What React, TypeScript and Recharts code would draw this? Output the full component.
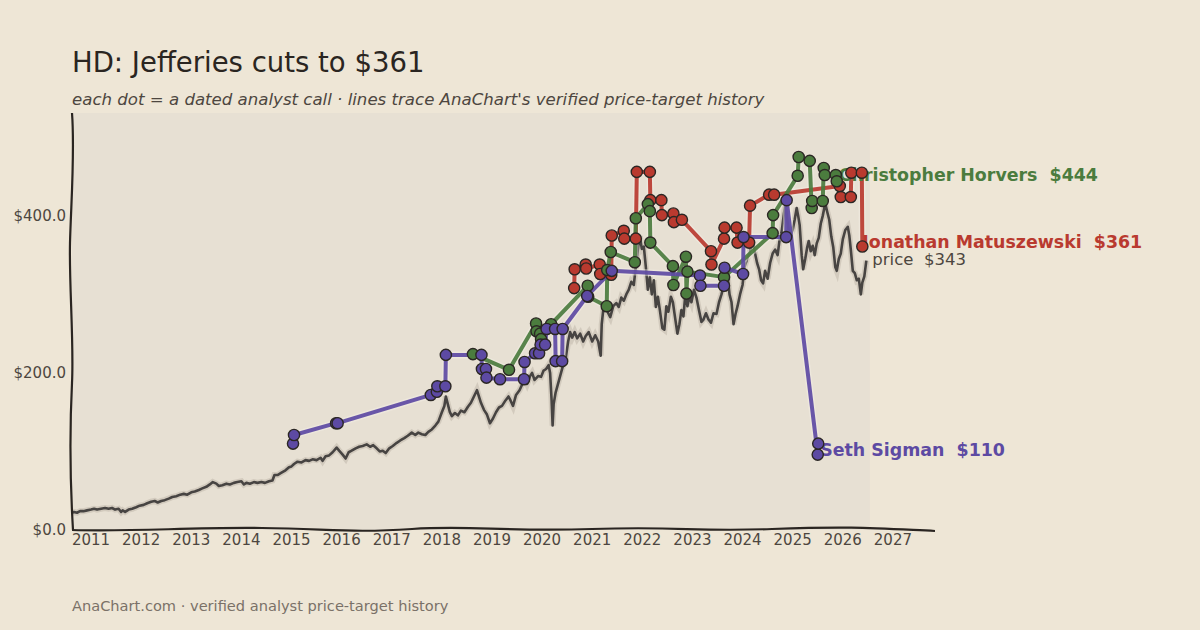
import React from 'react';
import { ComposedChart, Line, Scatter, XAxis, YAxis, ReferenceArea } from 'recharts';

// ---- values ----
const YEAR_TICKS = [2011, 2012, 2013, 2014, 2015, 2016, 2017, 2018, 2019, 2020, 2021, 2022, 2023, 2024, 2025, 2026, 2027];
const PRICE_TICKS = [0, 200, 400];
const X_DOMAIN: [number, number] = [2010.62, 2027.84];
const Y_DOMAIN: [number, number] = [0, 531];
const HISTORY_END = 2026.54;

// HD close (adjusted), [year, $]
const priceHistory: [number, number][] = [
  [2010.62, 22], [2010.66, 23], [2010.72, 22], [2010.78, 24], [2010.85, 24], [2010.92, 25], [2011.0, 26], [2011.06, 27],
  [2011.12, 26], [2011.2, 27], [2011.28, 28], [2011.35, 27], [2011.42, 28], [2011.48, 26], [2011.55, 27], [2011.6, 23],
  [2011.63, 25], [2011.68, 23], [2011.75, 26], [2011.82, 27], [2011.9, 29], [2011.97, 31], [2012.05, 32], [2012.12, 34],
  [2012.2, 36], [2012.27, 37], [2012.33, 35], [2012.4, 37], [2012.47, 38], [2012.55, 40], [2012.62, 42], [2012.7, 43],
  [2012.78, 45], [2012.85, 46], [2012.92, 45], [2013.0, 48], [2013.07, 49], [2013.15, 51], [2013.22, 53], [2013.3, 55],
  [2013.37, 58], [2013.43, 61], [2013.5, 59], [2013.55, 56], [2013.62, 57], [2013.7, 59], [2013.77, 58], [2013.85, 60],
  [2013.92, 61], [2014.0, 62], [2014.05, 58], [2014.1, 60], [2014.17, 59], [2014.25, 61], [2014.32, 60], [2014.4, 61],
  [2014.47, 60], [2014.55, 62], [2014.62, 63], [2014.66, 70], [2014.72, 70], [2014.8, 73], [2014.88, 76], [2014.95, 80],
  [2015.0, 81], [2015.05, 84], [2015.12, 87], [2015.2, 86], [2015.28, 89], [2015.35, 88], [2015.42, 90], [2015.5, 89],
  [2015.58, 92], [2015.62, 88], [2015.68, 94], [2015.75, 95], [2015.82, 99], [2015.9, 105], [2015.95, 101], [2016.02, 96],
  [2016.08, 91], [2016.14, 99], [2016.2, 101], [2016.28, 104], [2016.35, 106], [2016.42, 107], [2016.5, 109], [2016.57, 106],
  [2016.63, 108], [2016.7, 104], [2016.76, 100], [2016.82, 101], [2016.88, 98], [2016.95, 104], [2017.02, 107], [2017.1, 111],
  [2017.17, 114], [2017.25, 117], [2017.32, 120], [2017.4, 124], [2017.47, 121], [2017.53, 124], [2017.6, 122], [2017.67, 121],
  [2017.73, 125], [2017.8, 128], [2017.87, 133], [2017.93, 138], [2018.0, 150], [2018.05, 158], [2018.08, 170], [2018.12, 160],
  [2018.16, 150], [2018.2, 145], [2018.26, 149], [2018.32, 146], [2018.38, 152], [2018.45, 150], [2018.52, 157], [2018.58, 162],
  [2018.64, 170], [2018.7, 178], [2018.74, 170], [2018.78, 162], [2018.84, 153], [2018.9, 147], [2018.96, 136], [2019.02, 142],
  [2019.08, 150], [2019.14, 156], [2019.2, 158], [2019.27, 165], [2019.33, 170], [2019.37, 165], [2019.42, 158], [2019.48, 172],
  [2019.55, 178], [2019.6, 185], [2019.65, 193], [2019.7, 186], [2019.76, 196], [2019.8, 200], [2019.85, 191], [2019.92, 196],
  [2019.98, 195], [2020.03, 203], [2020.08, 205], [2020.13, 210], [2020.16, 200], [2020.19, 165], [2020.21, 133], [2020.23, 160],
  [2020.27, 175], [2020.3, 182], [2020.36, 196], [2020.42, 210], [2020.47, 218], [2020.52, 240], [2020.56, 252], [2020.6, 245],
  [2020.65, 252], [2020.7, 244], [2020.76, 250], [2020.82, 240], [2020.87, 247], [2020.93, 252], [2021.0, 240], [2021.06, 248],
  [2021.12, 240], [2021.17, 222], [2021.19, 262], [2021.22, 280], [2021.27, 284], [2021.32, 276], [2021.36, 271], [2021.42, 285],
  [2021.48, 289], [2021.53, 284], [2021.58, 296], [2021.63, 292], [2021.68, 300], [2021.73, 306], [2021.78, 316], [2021.83, 312],
  [2021.87, 335], [2021.92, 362], [2021.95, 374], [2021.99, 358], [2022.03, 361], [2022.07, 335], [2022.11, 306], [2022.15, 322],
  [2022.19, 300], [2022.23, 318], [2022.27, 284], [2022.31, 297], [2022.35, 280], [2022.4, 257], [2022.44, 255], [2022.48, 285],
  [2022.52, 278], [2022.57, 297], [2022.61, 290], [2022.65, 272], [2022.7, 250], [2022.74, 262], [2022.78, 280], [2022.82, 272],
  [2022.86, 301], [2022.9, 285], [2022.94, 297], [2022.98, 290], [2023.03, 306], [2023.08, 296], [2023.13, 280], [2023.18, 265],
  [2023.22, 268], [2023.27, 276], [2023.32, 268], [2023.37, 264], [2023.42, 276], [2023.48, 275], [2023.53, 290], [2023.58, 300],
  [2023.62, 310], [2023.67, 320], [2023.7, 325], [2023.74, 300], [2023.78, 290], [2023.82, 262], [2023.86, 275], [2023.9, 285],
  [2023.95, 300], [2024.0, 312], [2024.04, 335], [2024.09, 345], [2024.14, 352], [2024.2, 369], [2024.25, 352], [2024.29, 340],
  [2024.33, 332], [2024.37, 318], [2024.41, 314], [2024.45, 330], [2024.5, 320], [2024.55, 340], [2024.6, 352], [2024.65, 357],
  [2024.7, 350], [2024.74, 370], [2024.78, 380], [2024.82, 400], [2024.86, 418], [2024.89, 395], [2024.92, 382], [2024.96, 376],
  [2025.0, 382], [2025.04, 395], [2025.08, 410], [2025.11, 400], [2025.14, 388], [2025.18, 350], [2025.21, 332], [2025.25, 345],
  [2025.29, 360], [2025.32, 368], [2025.36, 355], [2025.4, 362], [2025.44, 350], [2025.48, 365], [2025.52, 372], [2025.56, 390],
  [2025.6, 400], [2025.65, 416], [2025.69, 405], [2025.73, 395], [2025.77, 374], [2025.81, 360], [2025.85, 335], [2025.88, 330],
  [2025.92, 345], [2025.96, 352], [2026.0, 370], [2026.05, 382], [2026.1, 386], [2026.13, 375], [2026.16, 357], [2026.2, 330],
  [2026.24, 327], [2026.28, 318], [2026.32, 320], [2026.36, 300], [2026.39, 315], [2026.43, 323], [2026.47, 343],
];

// analyst price-target calls, [year, target $] in call order
const horversCalls: [number, number][] = [
  [2018.62, 224], [2019.34, 204], [2019.88, 263], [2019.89, 253], [2019.96, 250], [2019.98, 243], [2020.18, 262],
  [2020.91, 311], [2020.92, 297], [2021.29, 285], [2021.3, 331], [2021.37, 354], [2021.85, 341], [2021.87, 397],
  [2022.11, 415], [2022.15, 406], [2022.16, 366], [2022.61, 336], [2022.62, 312], [2022.87, 348], [2022.88, 301],
  [2022.9, 329], [2023.63, 322], [2024.6, 378], [2024.61, 401], [2025.1, 451], [2025.12, 475], [2025.34, 470],
  [2025.38, 410], [2025.39, 419], [2025.6, 419], [2025.62, 461], [2025.64, 452], [2025.86, 452], [2025.88, 444],
];
const matuszewskiCalls: [number, number][] = [
  [2020.64, 308], [2020.65, 332], [2020.87, 338], [2020.88, 333], [2021.15, 338], [2021.16, 326], [2021.38, 325],
  [2021.39, 375], [2021.63, 381], [2021.64, 371], [2021.87, 371], [2021.89, 456], [2022.15, 456], [2022.16, 420],
  [2022.38, 420], [2022.39, 401], [2022.62, 403], [2022.63, 392], [2022.79, 395], [2023.37, 355], [2023.38, 338],
  [2023.63, 371], [2023.64, 385], [2023.88, 385], [2023.9, 366], [2024.13, 366], [2024.15, 413], [2024.53, 427],
  [2024.63, 427], [2025.94, 438], [2025.96, 424], [2026.16, 424], [2026.17, 455], [2026.38, 455], [2026.39, 361],
];
const sigmanCalls: [number, number][] = [
  [2015.03, 110], [2015.05, 121], [2015.89, 136], [2015.92, 136], [2017.78, 172], [2017.9, 176], [2017.91, 183],
  [2018.07, 183], [2018.08, 223], [2018.79, 223], [2018.8, 205], [2018.88, 205], [2018.89, 194], [2019.16, 192],
  [2019.64, 192], [2019.65, 214], [2019.86, 225], [2019.94, 225], [2019.97, 236], [2020.06, 236], [2020.09, 256],
  [2020.26, 256], [2020.27, 215], [2020.4, 215], [2020.41, 256], [2020.9, 298], [2021.39, 330], [2023.15, 324],
  [2023.16, 311], [2023.63, 311], [2023.64, 334], [2024.01, 326], [2024.02, 373], [2024.87, 373], [2024.88, 420],
  [2025.5, 96], [2025.51, 110],
];

const analystNames = ['Christopher Horvers', 'Jonathan Matuszewski', 'Seth Sigman'];

// ---- styling ----
const PAGE_BG = '#EEE6D6';
const PLOT_BG = '#E7E0D3';
const INK = '#2a2521';
const MUTED = '#4d4640';
const FONT = "'DejaVu Sans', Verdana, sans-serif";
const COLORS = ['#4b7c3e', '#b93a2f', '#5d4aa3'];
const LABEL_OFFSETS = [{ dx: 2, dy: -6 }, { dx: 0, dy: -5 }, { dx: 2, dy: 6 }];

const W = 1200;
const H = 630;
const PLOT = { left: 72, top: 113, right: 935, bottom: 530 };

const toPoints = (rows: [number, number][]) => rows.map(([x, y]) => ({ x, y }));

const callSeries = [horversCalls, matuszewskiCalls, sigmanCalls];

const Dot = (color: string) => (props: any) => (
  <circle cx={props.cx} cy={props.cy} r={5.6} fill={color} stroke="#2b2724" strokeWidth={1.4} />
);

const EndLabel = (text: string, color: string, bold: boolean, dx: number, dy: number, size: number) => (props: any) => (
  <text
    x={props.cx + dx}
    y={props.cy + dy}
    dominantBaseline="central"
    fill={color}
    fontFamily={FONT}
    fontSize={size}
    fontWeight={bold ? 700 : 400}
    style={{ whiteSpace: 'pre' }}
  >
    {text}
  </text>
);

// hand-drawn looking spines (xkcd style)
const Spines = () => (
  <svg width={W} height={H} style={{ position: 'absolute', left: 0, top: 0, pointerEvents: 'none' }}>
    <path
      d={`M${PLOT.left},${PLOT.top} C${PLOT.left + 3},${PLOT.top + 40} ${PLOT.left - 1},${PLOT.top + 90} ${PLOT.left - 2},${PLOT.top + 130}
         S${PLOT.left + 2},${PLOT.top + 230} ${PLOT.left},${PLOT.top + 270}
         S${PLOT.left - 3},${PLOT.top + 350} ${PLOT.left + 1},${PLOT.bottom}`}
      fill="none" stroke={INK} strokeWidth={2.2}
    />
    <path
      d={`M${PLOT.left},${PLOT.bottom} C${PLOT.left + 60},${PLOT.bottom + 2} ${PLOT.left + 120},${PLOT.bottom - 3} ${PLOT.left + 190},${PLOT.bottom - 2}
         S${PLOT.left + 280},${PLOT.bottom + 3} ${PLOT.left + 340},${PLOT.bottom - 1}
         S${PLOT.left + 430},${PLOT.bottom + 2} ${PLOT.left + 520},${PLOT.bottom - 1}
         S${PLOT.left + 620},${PLOT.bottom + 2} ${PLOT.left + 700},${PLOT.bottom - 1}
         S${PLOT.left + 800},${PLOT.bottom - 2} ${PLOT.right},${PLOT.bottom + 1}`}
      fill="none" stroke={INK} strokeWidth={2.2}
    />
  </svg>
);

export default function App() {
  const price = toPoints(priceHistory);
  const series = callSeries.map(toPoints);
  const lastPrice = priceHistory[priceHistory.length - 1];

  return (
    <div style={{ position: 'absolute', left: 0, top: 0, width: W, height: H, background: PAGE_BG, fontFamily: FONT, overflow: 'hidden' }}>
      <div style={{ position: 'absolute', left: 72, top: 46, fontSize: 27.5, color: INK, whiteSpace: 'nowrap' }}>
        HD: Jefferies cuts to $361
      </div>
      <div style={{ position: 'absolute', left: 72, top: 90, fontSize: 16.6, fontStyle: 'italic', color: MUTED, whiteSpace: 'nowrap' }}>
        each dot = a dated analyst call · lines trace AnaChart's verified price-target history
      </div>
      <div style={{ position: 'absolute', left: 72, top: 597, fontSize: 14.6, color: '#7a7168', whiteSpace: 'nowrap' }}>
        AnaChart.com · verified analyst price-target history
      </div>

      <div style={{ position: 'absolute', left: 0, top: 0 }}>
        <ComposedChart
          width={W}
          height={H}
          margin={{ top: PLOT.top, right: W - PLOT.right, bottom: H - PLOT.bottom - 30, left: 0 }}
        >
          <XAxis
            type="number"
            dataKey="x"
            domain={X_DOMAIN}
            ticks={YEAR_TICKS}
            axisLine={false}
            tickLine={false}
            tickSize={0}
            tickMargin={4}
            height={30}
            tick={{ fill: MUTED, fontSize: 15, fontFamily: FONT }}
            tickFormatter={(v: number) => String(v)}
          />
          <YAxis
            type="number"
            dataKey="y"
            domain={Y_DOMAIN}
            ticks={PRICE_TICKS}
            axisLine={false}
            tickLine={false}
            tickSize={0}
            tickMargin={6}
            width={72}
            tick={{ fill: MUTED, fontSize: 15, fontFamily: FONT }}
            tickFormatter={(v: number) => `$${v.toFixed(1)}`}
          />
          <ReferenceArea x1={X_DOMAIN[0]} x2={HISTORY_END} y1={Y_DOMAIN[0]} y2={Y_DOMAIN[1]} fill={PLOT_BG} fillOpacity={1} stroke="none" />

          {/* price line with a soft halo */}
          <Line data={price} dataKey="y" type="linear" stroke="#c9c1b3" strokeWidth={6} strokeOpacity={0.7} dot={false} activeDot={false} isAnimationActive={false} />
          <Line data={price} dataKey="y" type="linear" stroke="#474442" strokeWidth={2.6} strokeLinejoin="round" dot={false} activeDot={false} isAnimationActive={false} />

          {/* analyst target paths */}
          {[1, 0, 2].map((i) => (
            <Line key={`halo-${i}`} data={series[i]} dataKey="y" type="linear" stroke="#f4efe6" strokeWidth={7} strokeOpacity={0.45} dot={false} activeDot={false} isAnimationActive={false} />
          ))}
          {[1, 0, 2].map((i) => (
            <Line key={`path-${i}`} data={series[i]} dataKey="y" type="linear" stroke={COLORS[i]} strokeWidth={4} strokeOpacity={0.92} strokeLinejoin="round" dot={false} activeDot={false} isAnimationActive={false} />
          ))}

          {/* end labels */}
          {series.map((pts, i) => {
            const last = callSeries[i][callSeries[i].length - 1];
            return (
              <Scatter
                key={`label-${i}`}
                data={[pts[pts.length - 1]]}
                isAnimationActive={false}
                shape={EndLabel(`${analystNames[i]}  $${last[1]}`, COLORS[i], true, LABEL_OFFSETS[i].dx, LABEL_OFFSETS[i].dy, 17.4)}
              />
            );
          })}
          <Scatter
            data={[price[price.length - 1]]}
            isAnimationActive={false}
            shape={EndLabel(`price  $${lastPrice[1]}`, MUTED, false, 6, -1, 16.5)}
          />

          {/* call dots */}
          {[1, 0, 2].map((i) => (
            <Scatter key={`dots-${i}`} data={series[i]} isAnimationActive={false} shape={Dot(COLORS[i])} />
          ))}
        </ComposedChart>
      </div>
      <Spines />
    </div>
  );
}
